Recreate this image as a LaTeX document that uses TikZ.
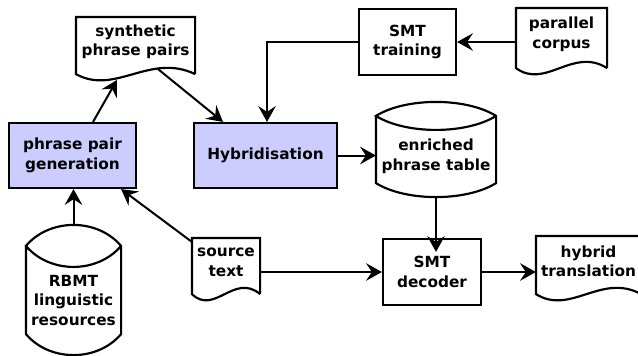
\documentclass[tikz,border=0pt]{standalone}
\usepackage{fontspec}
\setmainfont{DejaVu Sans}
\usetikzlibrary{calc}
\usetikzlibrary{arrows.meta}
\definecolor{procblue}{HTML}{CCCCFF}
\tikzset{
	box/.style={draw, line width=1.3pt, align=center, inner sep=0pt, font=\bfseries\fontsize{9.2}{11.7}\selectfont},
	proc/.style={box, fill=procblue},
	doc/.style={box, draw=none},
	store/.style={box, draw=none},
	outline/.style={line width=1.3pt, line join=miter},
	flow/.style={line width=1.2pt, -{Stealth[length=9.5pt,width=10.5pt,inset=3.5pt]}},
}
% sheet of paper with a wavy lower edge round a node
\newcommand\docline[1]{%
	\draw[outline] ([yshift=-4.5pt]#1.south east) -- (#1.north east) -- (#1.north west) -- ([yshift=-4.5pt]#1.south west)
	.. controls ($(#1.south west)!0.33!(#1.south east)+(0,-17.5pt)$) and ($(#1.south west)!0.62!(#1.south east)+(0,8.5pt)$) .. ([yshift=-4.5pt]#1.south east);
}
% data store: body plus a lens shaped lid, #2 = lid height in pt
\newcommand\storeline[2]{%
	\draw[outline] ([yshift=#2pt]#1.north west) -- (#1.south west)
	.. controls ($(#1.south west)!0.25!(#1.south east)+(0,-1.333*#2pt)$) and ($(#1.south west)!0.75!(#1.south east)+(0,-1.333*#2pt)$) .. (#1.south east)
	-- ([yshift=#2pt]#1.north east)
	.. controls ($(#1.north west)!0.75!(#1.north east)+(0,2.333*#2pt)$) and ($(#1.north west)!0.25!(#1.north east)+(0,2.333*#2pt)$) .. ([yshift=#2pt]#1.north west)
	.. controls ($(#1.north west)!0.25!(#1.north east)+(0,-0.333*#2pt)$) and ($(#1.north west)!0.75!(#1.north east)+(0,-0.333*#2pt)$) .. ([yshift=#2pt]#1.north east);
}

\begin{document}
\begin{tikzpicture}[x=0.6pt,y=-0.6pt]
	\useasboundingbox (0,0) rectangle (638,355);
	% processing steps
	\node[proc, minimum width=76.2pt, minimum height=39pt] (gen) at (72.5,155.5) {phrase pair\\generation};
	\node[proc, minimum width=85.8pt, minimum height=39pt] (hyb) at (265.5,155.5) {Hybridisation};
	\node[box, minimum width=58.2pt, minimum height=39.6pt] (train) at (407.5,42) {SMT\\training};
	\node[box, minimum width=58.8pt, minimum height=39.6pt] (dec) at (432,272) {SMT\\decoder};
	%
	\node[doc, minimum width=70.2pt, minimum height=28.5pt] (synth) at (135.5,41.75) {synthetic\\phrase pairs};
	\node[doc, minimum width=53.4pt, minimum height=30.3pt] (corpus) at (561.5,34.25) {parallel\\corpus};
	\node[doc, minimum width=39.6pt, minimum height=27.9pt] (src) at (226,262.25) {source\\text};
	\node[doc, minimum width=61.8pt, minimum height=29.1pt] (hybtr) at (588.5,261.25) {hybrid\\translation};
	\docline{synth}
	\docline{corpus}
	\docline{src}
	\docline{hybtr}
	%
	\node[store, minimum width=70.8pt, minimum height=30.6pt] (tab) at (436,156.5) {enriched\\phrase table};
	\node[store, minimum width=55.8pt, minimum height=39pt] (rbmt) at (73.5,300.5) {RBMT\\linguistic\\resources};
	\storeline{tab}{8.4}
	\storeline{rbmt}{12.6}
	%
	\draw[flow] ([xshift=12.3pt]gen.north) -- ([xshift=-11.1pt,yshift=-8pt]synth.south);
	\draw[flow] ([xshift=13.5pt,yshift=-1.5pt]synth.south) -- ([xshift=-25.5pt]hyb.north);
	\draw[flow] (train.west) -| ([xshift=0.9pt]hyb.north);
	\draw[flow] (corpus.west |- train.east) -- (train.east);
	\draw[flow] (hyb.east) -- (hyb.east -| tab.west);
	\draw[flow] ([yshift=-8.4pt]tab.south) -- ([yshift=-8.4pt]tab.south |- dec.north);
	\draw[flow] (src.east |- dec.west) -- (dec.west);
	\draw[flow] (dec.east) -- (dec.east -| hybtr.west);
	\draw[flow] ([yshift=-2.4pt]src.north west) -- ([xshift=-9.6pt]gen.south east);
	\draw[flow] ([yshift=25.2pt]rbmt.north) -- (rbmt.north |- gen.south);
\end{tikzpicture}
\end{document}
